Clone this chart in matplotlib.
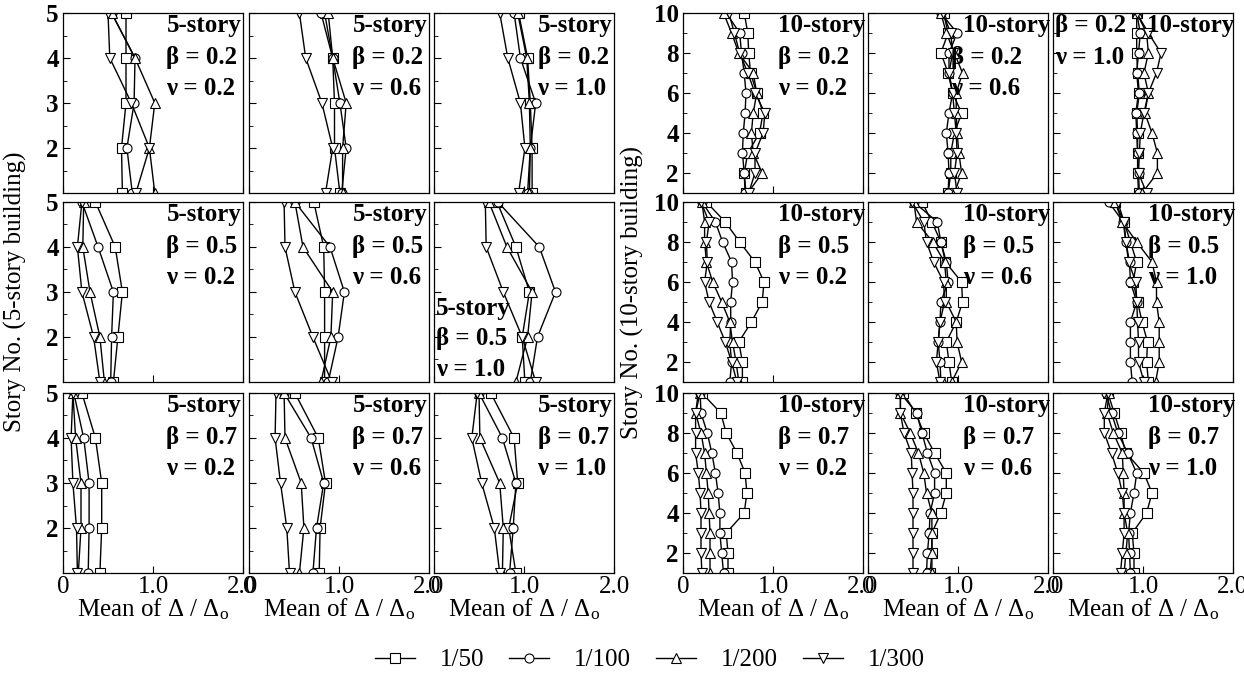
"""
Story-wise mean drift ratio (Δ/Δo) of 5-story and 10-story buildings,
3 x 3 panels per building (β rows, ν columns), four drift levels per panel.
"""
import matplotlib
matplotlib.use("Agg")
import matplotlib.pyplot as plt
from matplotlib.ticker import MultipleLocator, FixedLocator

plt.rcParams["font.family"] = ["Liberation Serif", "DejaVu Serif"]
plt.rcParams["mathtext.fontset"] = "custom"
plt.rcParams["mathtext.rm"] = "Liberation Serif"
plt.rcParams["mathtext.it"] = "Liberation Serif:italic"
plt.rcParams["mathtext.bf"] = "Liberation Serif:bold"

BETAS = ["0.2", "0.5", "0.7"]
NUS = ["0.2", "0.6", "1.0"]
LEVELS = ["1/50", "1/100", "1/200", "1/300"]
MARKERS = ["s", "o", "^", "v"]

STORIES_5 = [5, 4, 3, 2, 1]
STORIES_10 = [10, 9, 8, 7, 6, 5, 4, 3, 2, 1]

# 5-story building, values listed from story 5 down to story 1
# order inside each panel: 1/50, 1/100, 1/200, 1/300
D5 = {
    ("0.2", "0.2"): [
        [0.70, 0.70, 0.70, 0.65, 0.66],
        [0.54, 0.80, 0.79, 0.71, 0.77],
        [0.54, 0.80, 1.02, 0.96, 1.02],
        [0.50, 0.52, 0.76, 0.96, 0.81],
    ],
    ("0.2", "0.6"): [
        [0.84, 0.93, 0.95, 0.95, 1.01],
        [0.80, 0.93, 1.01, 1.08, 1.03],
        [0.88, 0.93, 1.08, 1.04, 1.04],
        [0.56, 0.63, 0.81, 0.93, 0.85],
    ],
    ("0.2", "1.0"): [
        [0.94, 1.04, 1.07, 1.09, 1.09],
        [0.89, 0.96, 1.13, 1.07, 1.04],
        [0.93, 1.03, 1.06, 1.07, 1.06],
        [0.73, 0.82, 0.96, 1.01, 0.94],
    ],
    ("0.5", "0.2"): [
        [0.36, 0.58, 0.66, 0.61, 0.56],
        [0.21, 0.39, 0.56, 0.54, 0.53],
        [0.23, 0.22, 0.30, 0.41, 0.46],
        [0.21, 0.16, 0.21, 0.34, 0.41],
    ],
    ("0.5", "0.6"): [
        [0.72, 0.83, 0.84, 0.84, 0.84],
        [0.51, 0.90, 1.06, 0.99, 0.88],
        [0.51, 0.60, 0.93, 0.91, 0.80],
        [0.39, 0.40, 0.51, 0.71, 0.92],
    ],
    ("0.5", "1.0"): [
        [0.70, 0.91, 1.06, 0.98, 1.01],
        [0.71, 1.17, 1.35, 1.15, 1.07],
        [0.61, 0.81, 1.09, 1.04, 0.91],
        [0.57, 0.58, 0.77, 0.98, 1.13],
    ],
    ("0.7", "0.2"): [
        [0.21, 0.36, 0.43, 0.43, 0.41],
        [0.12, 0.23, 0.29, 0.29, 0.28],
        [0.11, 0.14, 0.20, 0.20, 0.17],
        [0.11, 0.09, 0.11, 0.15, 0.16],
    ],
    ("0.7", "0.6"): [
        [0.51, 0.77, 0.85, 0.79, 0.78],
        [0.39, 0.69, 0.83, 0.75, 0.71],
        [0.39, 0.40, 0.58, 0.61, 0.56],
        [0.30, 0.29, 0.35, 0.42, 0.45],
    ],
    ("0.7", "1.0"): [
        [0.63, 0.89, 0.93, 0.83, 0.91],
        [0.50, 0.76, 0.91, 0.88, 0.84],
        [0.50, 0.51, 0.73, 0.77, 0.76],
        [0.48, 0.42, 0.53, 0.67, 0.73],
    ],
}

# 10-story building, values listed from story 10 down to story 1
D10 = {
    ("0.2", "0.2"): [
        [0.68, 0.72, 0.73, 0.75, 0.82, 0.89, 0.85, 0.72, 0.68, 0.70],
        [0.48, 0.63, 0.65, 0.68, 0.70, 0.69, 0.67, 0.66, 0.68, 0.69],
        [0.45, 0.54, 0.62, 0.78, 0.82, 0.78, 0.76, 0.78, 0.88, 0.72],
        [0.51, 0.57, 0.63, 0.72, 0.80, 0.91, 0.89, 0.80, 0.80, 0.73],
    ],
    ("0.2", "0.6"): [
        [0.84, 0.89, 0.81, 0.89, 0.94, 1.04, 0.96, 0.92, 0.92, 0.89],
        [0.81, 0.99, 0.90, 0.90, 0.94, 0.90, 0.87, 0.89, 0.90, 0.89],
        [0.81, 0.87, 0.96, 1.05, 0.98, 0.98, 0.99, 1.01, 1.04, 0.96],
        [0.83, 0.92, 0.94, 0.90, 0.94, 0.96, 0.98, 0.99, 0.96, 0.99],
    ],
    ("0.2", "1.0"): [
        [0.93, 0.93, 0.93, 0.94, 0.96, 0.93, 0.94, 0.94, 0.94, 0.95],
        [0.93, 0.97, 0.95, 0.93, 0.95, 0.92, 0.93, 0.94, 0.95, 0.96],
        [0.93, 1.04, 1.06, 1.01, 1.06, 1.02, 1.10, 1.16, 1.16, 0.99],
        [0.93, 1.06, 1.20, 1.15, 1.06, 1.01, 0.97, 0.96, 0.95, 1.04],
    ],
    ("0.5", "0.2"): [
        [0.26, 0.47, 0.63, 0.80, 0.90, 0.88, 0.76, 0.62, 0.66, 0.66],
        [0.21, 0.36, 0.44, 0.54, 0.55, 0.53, 0.53, 0.52, 0.54, 0.52],
        [0.21, 0.24, 0.24, 0.26, 0.33, 0.43, 0.52, 0.55, 0.59, 0.62],
        [0.20, 0.29, 0.26, 0.27, 0.24, 0.29, 0.38, 0.47, 0.54, 0.60],
    ],
    ("0.5", "0.6"): [
        [0.60, 0.71, 0.81, 0.86, 1.04, 1.05, 0.98, 0.87, 0.90, 0.93],
        [0.51, 0.77, 0.81, 0.87, 0.89, 0.81, 0.80, 0.78, 0.80, 0.81],
        [0.51, 0.54, 0.72, 0.85, 0.87, 0.87, 0.98, 0.99, 1.04, 0.93],
        [0.49, 0.62, 0.65, 0.73, 0.84, 0.85, 0.80, 0.78, 0.76, 0.80],
    ],
    ("0.5", "1.0"): [
        [0.69, 0.79, 0.86, 0.93, 0.89, 0.94, 0.99, 1.05, 1.04, 1.06],
        [0.62, 0.78, 0.81, 0.85, 0.86, 0.93, 0.86, 0.86, 0.86, 0.88],
        [0.69, 0.77, 0.93, 1.10, 1.15, 1.15, 1.18, 1.18, 1.18, 1.14],
        [0.72, 0.79, 0.81, 0.84, 0.92, 0.93, 0.94, 0.95, 0.95, 1.01],
    ],
    ("0.7", "0.2"): [
        [0.21, 0.42, 0.48, 0.60, 0.69, 0.71, 0.68, 0.48, 0.50, 0.50],
        [0.19, 0.20, 0.27, 0.32, 0.36, 0.39, 0.41, 0.41, 0.43, 0.45],
        [0.19, 0.14, 0.20, 0.24, 0.26, 0.28, 0.29, 0.30, 0.30, 0.30],
        [0.17, 0.14, 0.14, 0.14, 0.17, 0.19, 0.20, 0.20, 0.20, 0.21],
    ],
    ("0.7", "0.6"): [
        [0.39, 0.53, 0.62, 0.74, 0.87, 0.87, 0.81, 0.71, 0.71, 0.69],
        [0.36, 0.54, 0.60, 0.66, 0.74, 0.74, 0.69, 0.68, 0.66, 0.65],
        [0.36, 0.36, 0.47, 0.56, 0.62, 0.65, 0.71, 0.71, 0.71, 0.71],
        [0.36, 0.36, 0.40, 0.48, 0.49, 0.50, 0.50, 0.50, 0.50, 0.50],
    ],
    ("0.7", "1.0"): [
        [0.61, 0.68, 0.75, 0.81, 1.01, 1.10, 1.04, 0.88, 0.90, 0.90],
        [0.59, 0.65, 0.72, 0.83, 0.93, 0.90, 0.86, 0.84, 0.85, 0.86],
        [0.62, 0.60, 0.67, 0.77, 0.78, 0.79, 0.79, 0.83, 0.81, 0.79],
        [0.61, 0.57, 0.57, 0.65, 0.72, 0.77, 0.79, 0.79, 0.77, 0.75],
    ],
}

W, H = 1244, 678
COL_LEFT_5 = [63, 249, 434]
COL_LEFT_10 = [683, 868, 1053]
COL_W = 180
ROW_TOP = [13, 202, 393]
ROW_H = 180

FS = 18
TXT_Y = [0.93, 0.755, 0.58]


def px_axes(fig, left, top):
    return fig.add_axes([left / W, 1 - (top + ROW_H) / H, COL_W / W, ROW_H / H])


def style_axes(ax, n_story, first_col, last_row):
    ax.set_xlim(0, 2)
    ax.set_ylim(1, n_story)
    ax.xaxis.set_major_locator(FixedLocator([0, 1, 2]))
    if n_story == 5:
        ax.yaxis.set_major_locator(FixedLocator([2, 3, 4, 5]))
        ax.yaxis.set_minor_locator(MultipleLocator(0.5))
    else:
        ax.yaxis.set_major_locator(FixedLocator([2, 4, 6, 8, 10]))
        ax.yaxis.set_minor_locator(MultipleLocator(1))
    ax.tick_params(axis="both", which="major", direction="in", length=5,
                   width=0.8, top=False, right=False)
    ax.tick_params(axis="y", which="minor", direction="in", length=3, width=0.6)
    ax.tick_params(axis="x", labelsize=FS, pad=2)
    ax.tick_params(axis="y", labelsize=FS, pad=3)
    for s in ax.spines.values():
        s.set_linewidth(0.9)
    if first_col:
        for lab in ax.get_yticklabels():
            lab.set_fontweight("bold")
    else:
        ax.set_yticklabels([])
    if last_row:
        ax.set_xticklabels(["0", "1.0", "2.0"])
        ax.set_xlabel(r"Mean of Δ / Δ$_\mathregular{o}$", fontsize=FS, labelpad=-1)
    else:
        ax.set_xticklabels([])


def annotate(ax, lines, xs, ys, ha="left"):
    for t, x, y in zip(lines, xs, ys):
        ax.text(x, y, t, transform=ax.transAxes, ha=ha, va="center",
                fontsize=FS, fontweight="bold", zorder=5)


fig = plt.figure(figsize=(W / 100, H / 100), dpi=100)
handles = []

for bi, beta in enumerate(BETAS):
    for ni, nu in enumerate(NUS):
        # 5-story
        ax = px_axes(fig, COL_LEFT_5[ni], ROW_TOP[bi])
        for vals, m, lab in zip(D5[(beta, nu)], MARKERS, LEVELS):
            ln, = ax.plot(vals, STORIES_5, color="black", lw=1.0, marker=m,
                          ms=6.5, mfc="white", mec="black", mew=0.8, label=lab)
            if bi == 0 and ni == 0:
                handles.append(ln)
        style_axes(ax, 5, ni == 0, bi == 2)
        lines = ["5-story", f"β = {beta}", f"ν = {nu}"]
        if (beta, nu) == ("0.5", "1.0"):
            annotate(ax, lines, [0.01] * 3, [0.41, 0.24, 0.07])
        else:
            annotate(ax, lines, [0.575] * 3, TXT_Y)

        # 10-story
        ax = px_axes(fig, COL_LEFT_10[ni], ROW_TOP[bi])
        for vals, m, lab in zip(D10[(beta, nu)], MARKERS, LEVELS):
            ax.plot(vals, STORIES_10, color="black", lw=1.0, marker=m,
                    ms=6.5, mfc="white", mec="black", mew=0.8, label=lab)
        style_axes(ax, 10, ni == 0, bi == 2)
        lines = ["10-story", f"β = {beta}", f"ν = {nu}"]
        if (beta, nu) == ("0.2", "1.0"):
            annotate(ax, lines, [0.52, 0.01, 0.01], [0.93, 0.93, 0.755])
        elif (beta, nu) == ("0.2", "0.6"):
            annotate(ax, lines, [0.53, 0.46, 0.46], TXT_Y)
        else:
            annotate(ax, lines, [0.53] * 3, TXT_Y)

fig.text(15 / W, 1 - 292 / H, "Story No. (5-story building)", rotation=90,
         ha="center", va="center", fontsize=FS)
fig.text(632 / W, 1 - 292 / H, "Story No. (10-story building)", rotation=90,
         ha="center", va="center", fontsize=FS)

fig.legend(handles=handles, labels=LEVELS, loc="center",
           bbox_to_anchor=(650 / W, 1 - 660 / H), ncol=4, frameon=False,
           fontsize=FS, numpoints=1, handlelength=1.6, handletextpad=1.0,
           columnspacing=1.0)

fig.savefig("out.png", dpi=100)
plt.close(fig)
